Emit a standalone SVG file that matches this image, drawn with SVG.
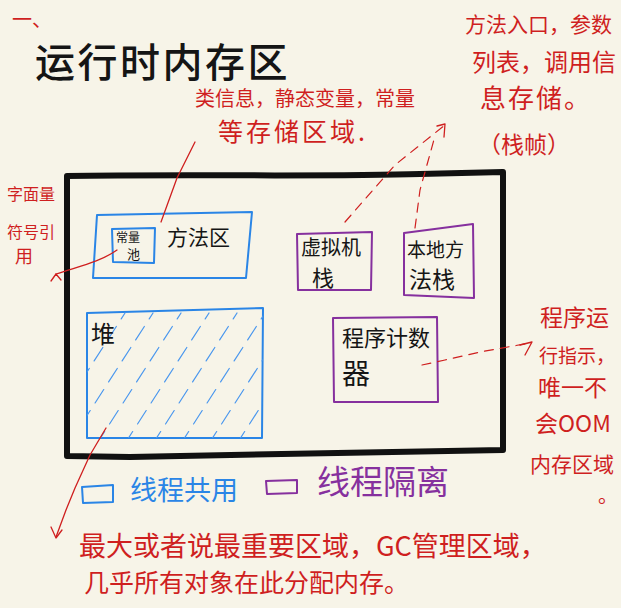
<svg xmlns="http://www.w3.org/2000/svg" width="621" height="608" viewBox="0 0 621 608">
<defs>
<style>
text{font-family:"Noto Sans CJK SC","Noto Sans",sans-serif;}
.blk{fill:#151515;}
.red{fill:#cf1f1f;}
.blue{fill:#2a85e6;}
.pur{fill:#86309e;}
.bbox{fill:none;stroke:#2a85e6;stroke-width:2;stroke-linejoin:round;stroke-linecap:round;}
.pbox{fill:none;stroke:#86309e;stroke-width:2;stroke-linejoin:round;stroke-linecap:round;}
.rl{fill:none;stroke:#cf1f1f;stroke-width:1.3;stroke-linecap:round;stroke-linejoin:round;}
.rd{fill:none;stroke:#cf1f1f;stroke-width:1.2;stroke-dasharray:9 7;stroke-linecap:round;}
.hatch{fill:none;stroke:#4a97ee;stroke-width:1.2;stroke-dasharray:16 9;stroke-linecap:round;}
</style>
<clipPath id="heapclip"><path d="M87,313 L263,308 L262,438 L87,438 Z"/></clipPath>
</defs>
<rect width="621" height="608" fill="#f7f4e8"/>

<g id="heading">
<text x="12" y="27" class="red" font-size="20">一、</text>
<text x="35" y="77" class="blk" font-size="40" letter-spacing="2.5" font-weight="500">运行时内存区</text>
</g>

<g id="runtime-area">
<path d="M67,176 C180,174 330,177 420,174 L503,172 L503,450 C380,452 240,455 130,457 L67,456 Z" fill="none" stroke="#111" stroke-width="6" stroke-linecap="round" stroke-linejoin="round"/>
</g>

<g id="method-area">
<path class="bbox" d="M97,215 L252,212 L246,278 L93,278 Z"/>
<text x="167" y="245" class="blk" font-size="21">方法区</text>
</g>

<g id="constant-pool">
<path class="bbox" d="M112,229 L155,228 L154,263 L113,262 Z"/>
<text x="116" y="242" class="blk" font-size="12">常量</text>
<text x="127" y="259" class="blk" font-size="13">池</text>
</g>

<g id="heap">
<path class="bbox" d="M87,313 C140,311 200,310 263,308 L262,438 L87,438 Z"/>
<g clip-path="url(#heapclip)">
<path class="hatch" d="M10,438 L90,313"/>
<path class="hatch" d="M40,445 L125,313"/>
<path class="hatch" d="M68,445 L153,313"/>
<path class="hatch" d="M96,445 L181,313"/>
<path class="hatch" d="M124,445 L209,313"/>
<path class="hatch" d="M152,445 L237,313"/>
<path class="hatch" d="M180,445 L265,313"/>
<path class="hatch" d="M208,445 L293,313"/>
<path class="hatch" d="M236,445 L321,313"/>
<path class="hatch" d="M264,445 L349,313"/>
</g>
<text x="91" y="343" class="blk" font-size="24">堆</text>
</g>

<g id="vm-stack">
<path class="pbox" d="M297,234 L372,232 L371,290 L298,290 Z"/>
<text x="301" y="255" class="blk" font-size="20">虚拟机</text>
<text x="312" y="286" class="blk" font-size="22">栈</text>
</g>

<g id="native-stack">
<path class="pbox" d="M404,233 L473,224 L474,298 L404,295 Z"/>
<text x="407" y="257" class="blk" font-size="19">本地方</text>
<text x="409" y="288" class="blk" font-size="23">法栈</text>
</g>

<g id="program-counter">
<path class="pbox" d="M333,318 L437,317 L438,402 L334,402 Z"/>
<text x="342" y="346" class="blk" font-size="22">程序计数</text>
<text x="342" y="384" class="blk" font-size="28">器</text>
</g>

<g id="connectors">
<path class="rl" d="M195,142 L177,178 L161,222"/>
<path class="rl" d="M117,250 C100,262 80,266 56,274"/>
<path class="rl" d="M56,274 L51,281 M56,274 L61,280"/>
<path class="rd" d="M345,222 L395,165 L445,125"/>
<path class="rd" d="M415,228 L420,190 L435,136"/>
<path class="rl" d="M437,126 L445,124 L444,137"/>
<path class="rd" d="M422,365 L445,360 L480,352 L530,343"/>
<path class="rl" d="M520,345 L532,342 L525,355"/>
<path class="rl" d="M106,428 L90,455 L75,488 L66,510 L56,537"/>
<path class="rl" d="M51,527 L56,538 L62,530"/>
</g>

<g id="note-class-info">
<text x="195" y="106" class="red" font-size="20">类信息，静态变量，常量</text>
<text x="218" y="141" class="red" font-size="25" letter-spacing="3">等存储区域.</text>
</g>

<g id="note-stack-frame">
<text x="465" y="32" class="red" font-size="21">方法入口，参数</text>
<text x="472" y="71" class="red" font-size="24">列表，调用信</text>
<text x="480" y="108" class="red" font-size="26" letter-spacing="2">息存储。</text>
<text x="478" y="153" class="red" font-size="23">（栈帧）</text>
</g>

<g id="note-literal">
<text x="7" y="200" class="red" font-size="16">字面量</text>
<text x="7" y="238" class="red" font-size="16">符号引</text>
<text x="15" y="263" class="red" font-size="18">用</text>
</g>

<g id="note-pc">
<text x="540" y="326" class="red" font-size="23">程序运</text>
<text x="539" y="363" class="red" font-size="19">行指示，</text>
<text x="538" y="396" class="red" font-size="23">唯一不</text>
<text x="535" y="432" class="red" font-size="23">会OOM</text>
<text x="530" y="472" class="red" font-size="21">内存区域</text>
<text x="598" y="503" class="red" font-size="20">。</text>
</g>

<g id="legend">
<path class="bbox" d="M82,487 L113,485 L113,502 L83,503 Z"/>
<text x="130" y="500" class="blue" font-size="27">线程共用</text>
<path class="pbox" d="M266,481 L297,480 L297,493 L267,494 Z"/>
<text x="317" y="494" class="pur" font-size="33">线程隔离</text>
</g>

<g id="note-heap">
<text x="79" y="556" class="red" font-size="27">最大或者说最重要区域，GC管理区域，</text>
<text x="84" y="592" class="red" font-size="25">几乎所有对象在此分配内存。</text>
</g>
</svg>
